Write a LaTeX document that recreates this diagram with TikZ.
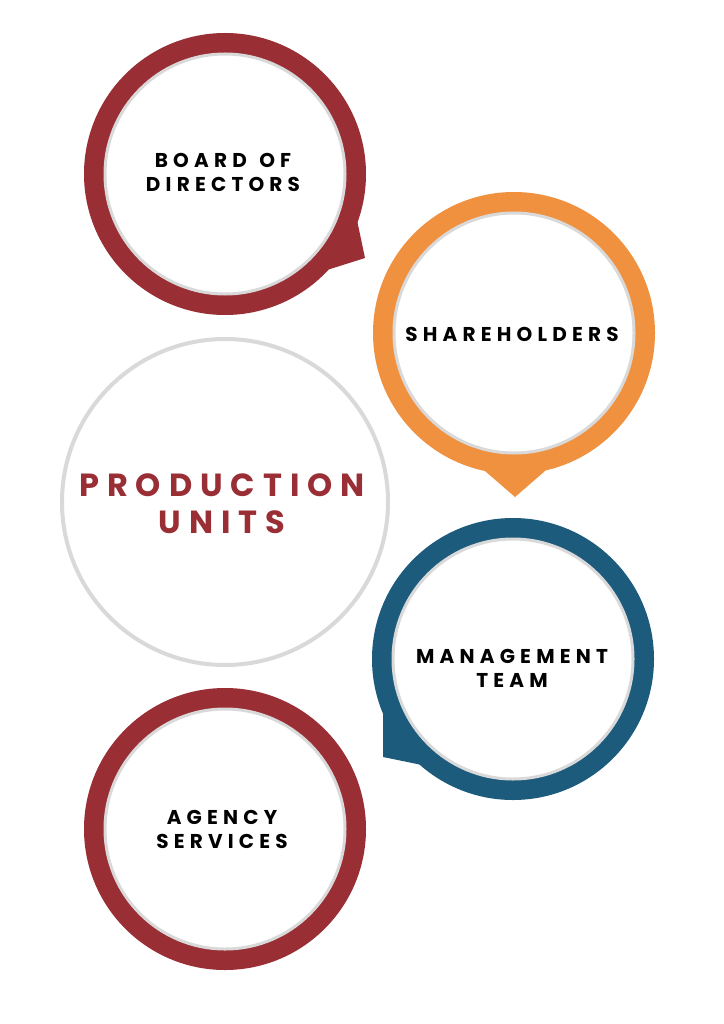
\documentclass[tikz,border=0pt]{standalone}
\usepackage{fontspec}
\setmainfont{Poppins}
\newfontfamily\labfont{Poppins}[LetterSpace=26]
\newfontfamily\bigfont{Poppins}[LetterSpace=25]
\definecolor{wine}{HTML}{992E35}
\definecolor{orng}{HTML}{F0913F}
\definecolor{teal}{HTML}{1D5B7C}
\definecolor{ringgray}{HTML}{D9D9D9}
\tikzset{
  outerring/.style={circle, minimum size=282pt, inner sep=0pt, fill=#1},
  innerdisc/.style={circle, minimum size=240pt, inner sep=0pt, fill=white, draw=ringgray, line width=3pt},
  lab/.style={align=center, font=\labfont\bfseries\fontsize{20}{24}\selectfont, text=black},
  biglab/.style={align=center, font=\bigfont\bfseries\fontsize{32}{37}\selectfont, text=wine},
}
\begin{document}
\begin{tikzpicture}[x=1pt,y=-1pt]
\useasboundingbox (0,0) rectangle (723,1024);
\fill[white] (0,0) rectangle (723,1024);
% centre circle
\node[circle, minimum size=326pt, inner sep=0pt, draw=ringgray, line width=4pt, fill=white] (prod) at (225,502) {};
\node[biglab] (prodtxt) at (222,504) {PRODUCTION\\UNITS};
% Board of directors
\coordinate (bt1) at (345,205);
\coordinate (bt2) at (357,220);
\coordinate (bt3) at (365,258);
\coordinate (bt4) at (327,270);
\fill[wine] (bt1) -- (bt2) -- (bt3) -- (bt4) -- (300,250) -- cycle;
\node[outerring=wine] (board) at (225,174) {};
\node[innerdisc] (boardin) at (board) {};
\node[lab] (boardtxt) at (223,172) {BOARD \hspace{3pt}OF\\DIRECTORS};
% Shareholders
\coordinate (st1) at (480,460);
\coordinate (st2) at (485,471);
\coordinate (st3) at (515,497);
\coordinate (st4) at (545,471);
\fill[orng] (st1) -- (st2) -- (st3) -- (st4) -- (550,460) -- cycle;
\node[outerring=orng] (share) at (514,333) {};
\node[innerdisc] (sharein) at (share) {};
\node[lab] (sharetxt) at (512,334) {SHAREHOLDERS};
% Management team
\coordinate (mt1) at (383,713);
\coordinate (mt2) at (383,757);
\coordinate (mt3) at (422,765);
\fill[teal] (395,700) -- (mt1) -- (mt2) -- (mt3) -- (430,740) -- cycle;
\node[outerring=teal] (mgmt) at (513,659) {};
\node[innerdisc] (mgmtin) at (mgmt) {};
\node[lab] (mgmttxt) at (512,668) {MANAGEMENT\\TEAM};
% Agency services
\node[outerring=wine] (agency) at (225,829) {};
\node[innerdisc] (agencyin) at (agency) {};
\node[lab] (agencytxt) at (222,829) {AGENCY\\SERVICES};
\end{tikzpicture}
\end{document}
